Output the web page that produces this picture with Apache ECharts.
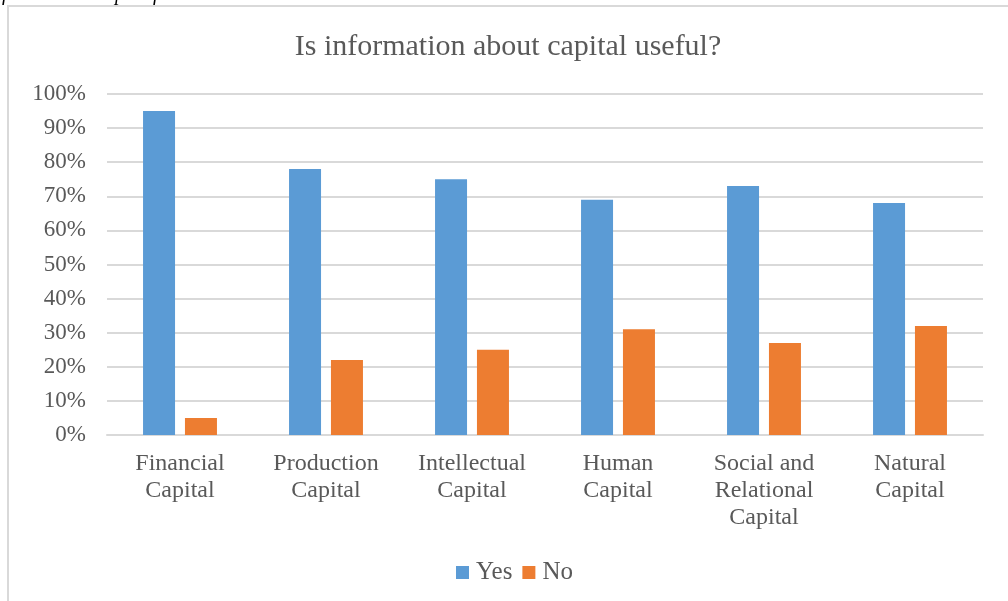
<!DOCTYPE html>
<html>
<head>
<meta charset="utf-8">
<script src="https://cdn.jsdelivr.net/npm/echarts@6/dist/echarts.min.js"></script>
<style>
html,body{margin:0;padding:0;background:#fff;}
#chart{width:1008px;height:601px;}
</style>
</head>
<body>
<div id="chart"></div>
<script>
const titleText = 'Is information about capital useful?';
const categories = ['Financial\nCapital', 'Production\nCapital', 'Intellectual\nCapital', 'Human\nCapital', 'Social and\nRelational\nCapital', 'Natural\nCapital'];
const seriesNames = ['Yes', 'No'];
const yesValues = [95, 78, 75, 69, 73, 68];
const noValues = [5, 22, 25, 31, 27, 32];
const yTicks = { min: 0, max: 100, interval: 10 };

const serif = '"Liberation Serif", "DejaVu Serif", serif';
const textColor = '#595959';
const gridColor = '#d9d9d9';

const chart = echarts.init(document.getElementById('chart'), null, { renderer: 'canvas' });
chart.setOption({
  backgroundColor: '#ffffff',
  animation: false,
  title: {
    text: titleText,
    left: 503,
    textAlign: 'center',
    top: 27,
    textStyle: { fontFamily: serif, fontSize: 30, fontWeight: 'normal', color: textColor }
  },
  graphic: [
    { type: 'rect', shape: { x: 8, y: 6, width: 1200, height: 800 }, style: { fill: 'none', stroke: gridColor, lineWidth: 2 }, silent: true },
    { type: 'text', x: 2, y: -15, style: { text: 'f', font: 'italic 20px ' + serif, fill: '#000' }, silent: true },
    { type: 'text', x: 115, y: -15, style: { text: 'p', font: 'italic 20px ' + serif, fill: '#000' }, silent: true },
    { type: 'text', x: 153, y: -15, style: { text: 'f', font: 'italic 20px ' + serif, fill: '#000' }, silent: true }
  ],
  legend: {
    data: seriesNames,
    left: 451,
    top: 555,
    itemWidth: 13,
    itemHeight: 13,
    itemGap: 10,
    icon: 'rect',
    textStyle: { fontFamily: serif, fontSize: 25, color: textColor, padding: [0, 0, 0, 2] }
  },
  grid: { left: 107, right: 25, top: 94, bottom: 166, containLabel: false },
  xAxis: {
    type: 'category',
    data: categories,
    axisLine: { lineStyle: { color: gridColor, width: 2 } },
    axisTick: { show: false },
    axisLabel: { fontFamily: serif, fontSize: 24, lineHeight: 27, color: textColor, margin: 15, interval: 0 }
  },
  yAxis: {
    type: 'value',
    min: yTicks.min,
    max: yTicks.max,
    interval: yTicks.interval,
    axisLine: { show: false },
    axisTick: { show: false },
    splitLine: { lineStyle: { color: gridColor, width: 2 } },
    axisLabel: { fontFamily: serif, fontSize: 23, color: textColor, margin: 21, formatter: '{value}%' }
  },
  series: [
    { name: seriesNames[0], type: 'bar', data: yesValues, barWidth: 32, barGap: '31%', itemStyle: { color: '#5B9BD5' } },
    { name: seriesNames[1], type: 'bar', data: noValues, barWidth: 32, barGap: '31%', itemStyle: { color: '#ED7D31' } }
  ]
});
</script>
</body>
</html>
